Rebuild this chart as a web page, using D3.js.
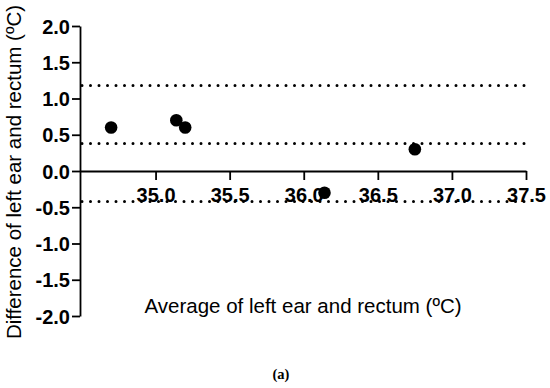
<!DOCTYPE html>
<html>
<head>
<meta charset="utf-8">
<script src="https://cdn.jsdelivr.net/npm/d3@7"></script>
<style>
  body { margin: 0; background: #fff; }
  svg { display: block; font-family: "Liberation Sans", Arial, sans-serif; }
</style>
</head>
<body>
<div id="chart"></div>
<script>
// Bland-Altman: left ear vs rectum
var avgTemp = [34.70, 35.14, 35.20, 36.14, 36.75];
var diffTemp = [0.6, 0.7, 0.6, -0.3, 0.3];
var refLines = [1.18, 0.38, -0.42]; // upper limit, mean bias, lower limit
var xTicks = [35.0, 35.5, 36.0, 36.5, 37.0, 37.5];
var yTicks = [2.0, 1.5, 1.0, 0.5, 0.0, -0.5, -1.0, -1.5, -2.0];

var svg = d3.select('#chart')
    .append('svg')
        .attr('width', 550)
        .attr('height', 388);

var x = d3.scaleLinear().domain([34.49, 37.5]).range([80, 526]);
var y = d3.scaleLinear().domain([-2, 2]).range([316, 26]);

var fmt = function(d) { return d.toFixed(1); }; // plain hyphen for negatives

// y axis
var yAxis = svg.append('g')
    .attr('transform', 'translate(80,0)')
    .call(d3.axisLeft(y).tickValues(yTicks).tickFormat(fmt).tickSize(8).tickSizeOuter(0));
yAxis.select('.domain').attr('stroke-width', 1.8);
yAxis.selectAll('.tick line').attr('stroke-width', 1.8);
yAxis.selectAll('text')
    .attr('x', -10)
    .attr('dy', '0.36em')
    .style('font-size', '20px')
    .style('font-weight', 'bold')
    .attr('fill', '#000');

// x axis sits at y = 0
var xAxis = svg.append('g')
    .attr('transform', 'translate(0,' + y(0) + ')')
    .call(d3.axisBottom(x).tickValues(xTicks).tickFormat(fmt).tickSize(9).tickSizeOuter(0));
xAxis.select('.domain').attr('stroke-width', 1.8);
xAxis.selectAll('.tick line').attr('stroke-width', 1.8);
xAxis.selectAll('text')
    .attr('y', 31)
    .attr('dy', 0)
    .style('font-size', '20px')
    .style('font-weight', 'bold')
    .attr('fill', '#000');

// dotted reference lines
svg.selectAll('line.ref')
    .data(refLines)
    .enter().append('line')
      .attr('class', 'ref')
      .attr('x1', x(34.49) + 2)
      .attr('x2', x(37.5))
      .attr('y1', function(d) { return y(d); })
      .attr('y2', function(d) { return y(d); })
      .attr('stroke', '#000')
      .attr('stroke-width', 3)
      .attr('stroke-linecap', 'round')
      .attr('stroke-dasharray', '0 8.5');

// points
svg.selectAll('circle')
    .data(avgTemp)
    .enter().append('circle')
      .attr('cx', function(d) { return x(d); })
      .attr('cy', function(d, i) { return y(diffTemp[i]); })
      .attr('r', 6.3)
      .style('fill', '#000');

// titles
svg.append('text')
    .attr('transform', 'translate(21,172) rotate(-90)')
    .attr('text-anchor', 'middle')
    .style('font-size', '20.5px')
    .text('Difference of left ear and rectum (ºC)');

svg.append('text')
    .attr('x', 303)
    .attr('y', 313)
    .attr('text-anchor', 'middle')
    .style('font-size', '20.5px')
    .text('Average of left ear and rectum (ºC)');

svg.append('text')
    .attr('x', 281)
    .attr('y', 379)
    .attr('text-anchor', 'middle')
    .style('font-family', '"Liberation Serif", serif')
    .style('font-size', '14.5px')
    .style('font-weight', 'bold')
    .text('(a)');
</script>
</body>
</html>
